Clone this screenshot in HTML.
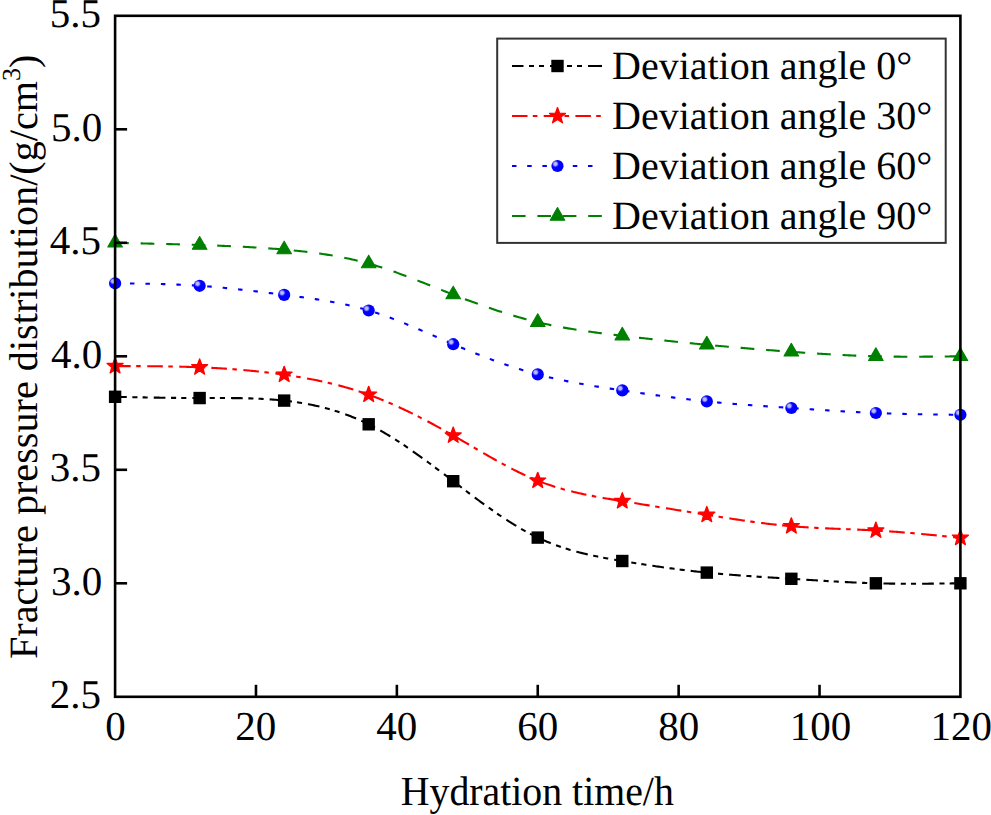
<!DOCTYPE html><html><head><meta charset="utf-8"><style>html,body{margin:0;padding:0;background:#fff;overflow:hidden}svg{display:block}text{font-family:"Liberation Serif", serif;fill:#000;text-rendering:geometricPrecision}</style></head><body>
<svg width="991" height="815" viewBox="0 0 991 815">
<defs><radialGradient id="ball" cx="0.33" cy="0.33" r="0.5" fx="0.33" fy="0.33"><stop offset="0" stop-color="#c4c4ff"/><stop offset="0.25" stop-color="#b0b0fc"/><stop offset="0.5" stop-color="#1a1aff"/><stop offset="0.62" stop-color="#0000ff"/><stop offset="1" stop-color="#0000ff"/></radialGradient></defs>
<rect width="991" height="815" fill="#fff"/>
<path d="M115.10,396.80 L116.51,396.83 L117.92,396.86 L119.33,396.89 L120.74,396.92 L122.16,396.95 L123.57,396.98 L124.98,397.01 L126.39,397.04 L127.80,397.07 L129.21,397.10 L130.62,397.13 L132.03,397.16 L133.45,397.19 L134.86,397.22 L136.27,397.25 L137.68,397.28 L139.09,397.30 L140.50,397.33 L141.91,397.36 L143.32,397.39 L144.73,397.41 L146.15,397.44 L147.56,397.47 L148.97,397.49 L150.38,397.52 L151.79,397.54 L153.20,397.57 L154.61,397.59 L156.02,397.62 L157.44,397.64 L158.85,397.66 L160.26,397.69 L161.67,397.71 L163.08,397.73 L164.49,397.75 L165.90,397.77 L167.31,397.79 L168.73,397.81 L170.14,397.83 L171.55,397.85 L172.96,397.86 L174.37,397.88 L175.78,397.90 L177.19,397.91 L178.60,397.93 L180.01,397.94 L181.43,397.95 L182.84,397.97 L184.25,397.98 L185.66,397.99 L187.07,398.00 L188.48,398.01 L189.89,398.02 L191.30,398.02 L192.72,398.03 L194.13,398.04 L195.54,398.04 L196.95,398.04 L198.36,398.05 L199.77,398.05 L201.18,398.05 L202.59,398.05 L204.00,398.05 L205.42,398.05 L206.83,398.05 L208.24,398.05 L209.65,398.05 L211.06,398.04 L212.47,398.04 L213.88,398.04 L215.29,398.04 L216.71,398.04 L218.12,398.04 L219.53,398.03 L220.94,398.04 L222.35,398.04 L223.76,398.04 L225.17,398.04 L226.58,398.05 L227.99,398.05 L229.41,398.06 L230.82,398.07 L232.23,398.08 L233.64,398.09 L235.05,398.10 L236.46,398.12 L237.87,398.13 L239.28,398.15 L240.70,398.17 L242.11,398.20 L243.52,398.23 L244.93,398.26 L246.34,398.29 L247.75,398.32 L249.16,398.36 L250.57,398.40 L251.98,398.45 L253.40,398.50 L254.81,398.55 L256.22,398.60 L257.63,398.66 L259.04,398.72 L260.45,398.79 L261.86,398.86 L263.27,398.93 L264.69,399.01 L266.10,399.10 L267.51,399.18 L268.92,399.28 L270.33,399.37 L271.74,399.48 L273.15,399.58 L274.56,399.69 L275.98,399.81 L277.39,399.93 L278.80,400.06 L280.21,400.20 L281.62,400.33 L283.03,400.48 L284.44,400.63 L285.85,400.79 L287.26,400.95 L288.68,401.12 L290.09,401.30 L291.50,401.48 L292.91,401.67 L294.32,401.86 L295.73,402.06 L297.14,402.27 L298.55,402.49 L299.97,402.71 L301.38,402.94 L302.79,403.18 L304.20,403.42 L305.61,403.67 L307.02,403.93 L308.43,404.20 L309.84,404.48 L311.25,404.76 L312.67,405.05 L314.08,405.35 L315.49,405.66 L316.90,405.98 L318.31,406.30 L319.72,406.63 L321.13,406.97 L322.54,407.33 L323.96,407.68 L325.37,408.05 L326.78,408.43 L328.19,408.82 L329.60,409.21 L331.01,409.62 L332.42,410.03 L333.83,410.46 L335.24,410.89 L336.66,411.34 L338.07,411.79 L339.48,412.25 L340.89,412.73 L342.30,413.21 L343.71,413.71 L345.12,414.21 L346.53,414.73 L347.95,415.26 L349.36,415.79 L350.77,416.34 L352.18,416.90 L353.59,417.47 L355.00,418.05 L356.41,418.65 L357.82,419.25 L359.24,419.87 L360.65,420.49 L362.06,421.13 L363.47,421.79 L364.88,422.45 L366.29,423.12 L367.70,423.81 L369.11,424.51 L370.52,425.22 L371.94,425.95 L373.35,426.68 L374.76,427.43 L376.17,428.19 L377.58,428.96 L378.99,429.74 L380.40,430.53 L381.81,431.34 L383.23,432.15 L384.64,432.98 L386.05,433.81 L387.46,434.65 L388.87,435.51 L390.28,436.37 L391.69,437.24 L393.10,438.12 L394.51,439.01 L395.93,439.91 L397.34,440.82 L398.75,441.73 L400.16,442.65 L401.57,443.59 L402.98,444.52 L404.39,445.47 L405.80,446.42 L407.22,447.38 L408.63,448.35 L410.04,449.32 L411.45,450.30 L412.86,451.29 L414.27,452.28 L415.68,453.28 L417.09,454.28 L418.50,455.29 L419.92,456.30 L421.33,457.32 L422.74,458.34 L424.15,459.37 L425.56,460.40 L426.97,461.44 L428.38,462.48 L429.79,463.52 L431.21,464.57 L432.62,465.62 L434.03,466.67 L435.44,467.73 L436.85,468.79 L438.26,469.85 L439.67,470.91 L441.08,471.98 L442.49,473.05 L443.91,474.12 L445.32,475.19 L446.73,476.26 L448.14,477.33 L449.55,478.41 L450.96,479.48 L452.37,480.55 L453.78,481.63 L455.20,482.71 L456.61,483.78 L458.02,484.85 L459.43,485.93 L460.84,487.00 L462.25,488.07 L463.66,489.14 L465.07,490.21 L466.49,491.28 L467.90,492.34 L469.31,493.41 L470.72,494.47 L472.13,495.52 L473.54,496.58 L474.95,497.63 L476.36,498.68 L477.77,499.72 L479.19,500.76 L480.60,501.80 L482.01,502.83 L483.42,503.86 L484.83,504.88 L486.24,505.90 L487.65,506.91 L489.06,507.92 L490.48,508.92 L491.89,509.91 L493.30,510.90 L494.71,511.88 L496.12,512.86 L497.53,513.83 L498.94,514.79 L500.35,515.75 L501.76,516.69 L503.18,517.63 L504.59,518.56 L506.00,519.49 L507.41,520.40 L508.82,521.31 L510.23,522.21 L511.64,523.09 L513.05,523.97 L514.47,524.84 L515.88,525.70 L517.29,526.55 L518.70,527.39 L520.11,528.22 L521.52,529.04 L522.93,529.84 L524.34,530.64 L525.75,531.42 L527.17,532.20 L528.58,532.96 L529.99,533.71 L531.40,534.44 L532.81,535.17 L534.22,535.88 L535.63,536.58 L537.04,537.26 L538.46,537.93 L539.87,538.59 L541.28,539.24 L542.69,539.87 L544.10,540.49 L545.51,541.09 L546.92,541.69 L548.33,542.27 L549.75,542.84 L551.16,543.40 L552.57,543.95 L553.98,544.48 L555.39,545.00 L556.80,545.52 L558.21,546.02 L559.62,546.51 L561.03,546.99 L562.45,547.46 L563.86,547.93 L565.27,548.38 L566.68,548.82 L568.09,549.25 L569.50,549.68 L570.91,550.09 L572.32,550.50 L573.74,550.90 L575.15,551.29 L576.56,551.67 L577.97,552.04 L579.38,552.41 L580.79,552.77 L582.20,553.12 L583.61,553.46 L585.02,553.80 L586.44,554.13 L587.85,554.46 L589.26,554.78 L590.67,555.09 L592.08,555.40 L593.49,555.70 L594.90,556.00 L596.31,556.29 L597.73,556.58 L599.14,556.86 L600.55,557.14 L601.96,557.41 L603.37,557.68 L604.78,557.94 L606.19,558.20 L607.60,558.46 L609.01,558.72 L610.43,558.97 L611.84,559.22 L613.25,559.47 L614.66,559.71 L616.07,559.95 L617.48,560.19 L618.89,560.43 L620.30,560.67 L621.72,560.91 L623.13,561.14 L624.54,561.37 L625.95,561.61 L627.36,561.84 L628.77,562.07 L630.18,562.30 L631.59,562.53 L633.01,562.75 L634.42,562.98 L635.83,563.20 L637.24,563.43 L638.65,563.65 L640.06,563.87 L641.47,564.09 L642.88,564.31 L644.29,564.53 L645.71,564.74 L647.12,564.96 L648.53,565.17 L649.94,565.38 L651.35,565.59 L652.76,565.80 L654.17,566.01 L655.58,566.22 L657.00,566.42 L658.41,566.63 L659.82,566.83 L661.23,567.03 L662.64,567.23 L664.05,567.43 L665.46,567.62 L666.87,567.82 L668.28,568.01 L669.70,568.20 L671.11,568.39 L672.52,568.58 L673.93,568.77 L675.34,568.95 L676.75,569.13 L678.16,569.31 L679.57,569.49 L680.99,569.67 L682.40,569.85 L683.81,570.02 L685.22,570.20 L686.63,570.37 L688.04,570.53 L689.45,570.70 L690.86,570.87 L692.27,571.03 L693.69,571.19 L695.10,571.35 L696.51,571.51 L697.92,571.67 L699.33,571.82 L700.74,571.97 L702.15,572.12 L703.56,572.27 L704.98,572.41 L706.39,572.56 L707.80,572.70 L709.21,572.84 L710.62,572.98 L712.03,573.11 L713.44,573.25 L714.85,573.38 L716.26,573.51 L717.68,573.63 L719.09,573.76 L720.50,573.89 L721.91,574.01 L723.32,574.13 L724.73,574.25 L726.14,574.37 L727.55,574.48 L728.97,574.60 L730.38,574.71 L731.79,574.82 L733.20,574.94 L734.61,575.04 L736.02,575.15 L737.43,575.26 L738.84,575.37 L740.26,575.47 L741.67,575.57 L743.08,575.68 L744.49,575.78 L745.90,575.88 L747.31,575.98 L748.72,576.07 L750.13,576.17 L751.54,576.27 L752.96,576.36 L754.37,576.46 L755.78,576.55 L757.19,576.65 L758.60,576.74 L760.01,576.83 L761.42,576.92 L762.83,577.01 L764.25,577.10 L765.66,577.19 L767.07,577.28 L768.48,577.37 L769.89,577.46 L771.30,577.55 L772.71,577.64 L774.12,577.73 L775.53,577.82 L776.95,577.90 L778.36,577.99 L779.77,578.08 L781.18,578.17 L782.59,578.25 L784.00,578.34 L785.41,578.43 L786.82,578.52 L788.24,578.61 L789.65,578.69 L791.06,578.78 L792.47,578.87 L793.88,578.96 L795.29,579.05 L796.70,579.14 L798.11,579.23 L799.52,579.32 L800.94,579.41 L802.35,579.50 L803.76,579.59 L805.17,579.68 L806.58,579.77 L807.99,579.86 L809.40,579.95 L810.81,580.04 L812.23,580.13 L813.64,580.21 L815.05,580.30 L816.46,580.39 L817.87,580.48 L819.28,580.57 L820.69,580.65 L822.10,580.74 L823.52,580.83 L824.93,580.91 L826.34,581.00 L827.75,581.08 L829.16,581.16 L830.57,581.25 L831.98,581.33 L833.39,581.41 L834.80,581.49 L836.22,581.57 L837.63,581.65 L839.04,581.73 L840.45,581.80 L841.86,581.88 L843.27,581.95 L844.68,582.03 L846.09,582.10 L847.51,582.17 L848.92,582.24 L850.33,582.31 L851.74,582.38 L853.15,582.44 L854.56,582.51 L855.97,582.57 L857.38,582.63 L858.79,582.70 L860.21,582.75 L861.62,582.81 L863.03,582.87 L864.44,582.92 L865.85,582.98 L867.26,583.03 L868.67,583.08 L870.08,583.12 L871.50,583.17 L872.91,583.21 L874.32,583.26 L875.73,583.30 L877.14,583.33 L878.55,583.37 L879.96,583.41 L881.37,583.44 L882.78,583.47 L884.20,583.50 L885.61,583.52 L887.02,583.55 L888.43,583.57 L889.84,583.60 L891.25,583.62 L892.66,583.64 L894.07,583.65 L895.49,583.67 L896.90,583.68 L898.31,583.70 L899.72,583.71 L901.13,583.72 L902.54,583.73 L903.95,583.73 L905.36,583.74 L906.77,583.74 L908.19,583.75 L909.60,583.75 L911.01,583.75 L912.42,583.75 L913.83,583.75 L915.24,583.75 L916.65,583.74 L918.06,583.74 L919.48,583.73 L920.89,583.73 L922.30,583.72 L923.71,583.71 L925.12,583.70 L926.53,583.69 L927.94,583.68 L929.35,583.67 L930.77,583.66 L932.18,583.65 L933.59,583.63 L935.00,583.62 L936.41,583.61 L937.82,583.59 L939.23,583.57 L940.64,583.56 L942.05,583.54 L943.47,583.52 L944.88,583.51 L946.29,583.49 L947.70,583.47 L949.11,583.45 L950.52,583.43 L951.93,583.42 L953.34,583.40 L954.76,583.38 L956.17,583.36 L957.58,583.34 L958.99,583.32 L960.40,583.30" fill="none" stroke="#000" stroke-width="2.10" stroke-dasharray="11.7 5.6 5.1 5.1 5.1 6.05" stroke-dashoffset="0.00" stroke-linecap="butt" stroke-linejoin="round"/>
<path d="M115.10,366.10 L116.51,366.10 L117.92,366.10 L119.33,366.11 L120.74,366.11 L122.16,366.11 L123.57,366.11 L124.98,366.11 L126.39,366.12 L127.80,366.12 L129.21,366.12 L130.62,366.12 L132.03,366.13 L133.45,366.13 L134.86,366.14 L136.27,366.14 L137.68,366.15 L139.09,366.15 L140.50,366.16 L141.91,366.17 L143.32,366.17 L144.73,366.18 L146.15,366.19 L147.56,366.20 L148.97,366.21 L150.38,366.22 L151.79,366.23 L153.20,366.24 L154.61,366.26 L156.02,366.27 L157.44,366.29 L158.85,366.30 L160.26,366.32 L161.67,366.34 L163.08,366.36 L164.49,366.38 L165.90,366.40 L167.31,366.42 L168.73,366.44 L170.14,366.47 L171.55,366.49 L172.96,366.52 L174.37,366.55 L175.78,366.58 L177.19,366.61 L178.60,366.64 L180.01,366.67 L181.43,366.71 L182.84,366.75 L184.25,366.78 L185.66,366.82 L187.07,366.86 L188.48,366.91 L189.89,366.95 L191.30,367.00 L192.72,367.04 L194.13,367.09 L195.54,367.14 L196.95,367.20 L198.36,367.25 L199.77,367.31 L201.18,367.36 L202.59,367.42 L204.00,367.49 L205.42,367.55 L206.83,367.61 L208.24,367.68 L209.65,367.75 L211.06,367.82 L212.47,367.90 L213.88,367.97 L215.29,368.05 L216.71,368.13 L218.12,368.21 L219.53,368.29 L220.94,368.38 L222.35,368.47 L223.76,368.56 L225.17,368.65 L226.58,368.74 L227.99,368.84 L229.41,368.94 L230.82,369.04 L232.23,369.14 L233.64,369.25 L235.05,369.36 L236.46,369.47 L237.87,369.58 L239.28,369.70 L240.70,369.81 L242.11,369.93 L243.52,370.06 L244.93,370.18 L246.34,370.31 L247.75,370.44 L249.16,370.57 L250.57,370.70 L251.98,370.84 L253.40,370.98 L254.81,371.12 L256.22,371.27 L257.63,371.42 L259.04,371.57 L260.45,371.72 L261.86,371.87 L263.27,372.03 L264.69,372.19 L266.10,372.36 L267.51,372.52 L268.92,372.69 L270.33,372.86 L271.74,373.04 L273.15,373.22 L274.56,373.40 L275.98,373.58 L277.39,373.77 L278.80,373.95 L280.21,374.15 L281.62,374.34 L283.03,374.54 L284.44,374.74 L285.85,374.94 L287.26,375.15 L288.68,375.36 L290.09,375.57 L291.50,375.79 L292.91,376.01 L294.32,376.23 L295.73,376.46 L297.14,376.69 L298.55,376.93 L299.97,377.16 L301.38,377.41 L302.79,377.65 L304.20,377.90 L305.61,378.15 L307.02,378.41 L308.43,378.67 L309.84,378.94 L311.25,379.21 L312.67,379.48 L314.08,379.76 L315.49,380.05 L316.90,380.33 L318.31,380.63 L319.72,380.92 L321.13,381.23 L322.54,381.53 L323.96,381.84 L325.37,382.16 L326.78,382.48 L328.19,382.81 L329.60,383.14 L331.01,383.48 L332.42,383.82 L333.83,384.17 L335.24,384.53 L336.66,384.89 L338.07,385.25 L339.48,385.62 L340.89,386.00 L342.30,386.38 L343.71,386.77 L345.12,387.16 L346.53,387.56 L347.95,387.97 L349.36,388.38 L350.77,388.80 L352.18,389.23 L353.59,389.66 L355.00,390.10 L356.41,390.54 L357.82,390.99 L359.24,391.45 L360.65,391.92 L362.06,392.39 L363.47,392.87 L364.88,393.35 L366.29,393.85 L367.70,394.35 L369.11,394.85 L370.52,395.37 L371.94,395.89 L373.35,396.42 L374.76,396.95 L376.17,397.50 L377.58,398.04 L378.99,398.60 L380.40,399.16 L381.81,399.73 L383.23,400.31 L384.64,400.89 L386.05,401.48 L387.46,402.08 L388.87,402.68 L390.28,403.28 L391.69,403.90 L393.10,404.52 L394.51,405.14 L395.93,405.78 L397.34,406.41 L398.75,407.06 L400.16,407.70 L401.57,408.36 L402.98,409.02 L404.39,409.68 L405.80,410.36 L407.22,411.03 L408.63,411.71 L410.04,412.40 L411.45,413.09 L412.86,413.79 L414.27,414.49 L415.68,415.19 L417.09,415.91 L418.50,416.62 L419.92,417.34 L421.33,418.07 L422.74,418.80 L424.15,419.53 L425.56,420.27 L426.97,421.01 L428.38,421.76 L429.79,422.51 L431.21,423.26 L432.62,424.02 L434.03,424.78 L435.44,425.55 L436.85,426.32 L438.26,427.09 L439.67,427.87 L441.08,428.65 L442.49,429.44 L443.91,430.22 L445.32,431.01 L446.73,431.81 L448.14,432.61 L449.55,433.41 L450.96,434.21 L452.37,435.01 L453.78,435.82 L455.20,436.64 L456.61,437.45 L458.02,438.27 L459.43,439.08 L460.84,439.90 L462.25,440.73 L463.66,441.55 L465.07,442.37 L466.49,443.20 L467.90,444.02 L469.31,444.85 L470.72,445.68 L472.13,446.50 L473.54,447.33 L474.95,448.15 L476.36,448.98 L477.77,449.80 L479.19,450.62 L480.60,451.44 L482.01,452.26 L483.42,453.08 L484.83,453.90 L486.24,454.71 L487.65,455.52 L489.06,456.32 L490.48,457.13 L491.89,457.93 L493.30,458.73 L494.71,459.52 L496.12,460.31 L497.53,461.09 L498.94,461.88 L500.35,462.65 L501.76,463.42 L503.18,464.19 L504.59,464.95 L506.00,465.70 L507.41,466.45 L508.82,467.20 L510.23,467.93 L511.64,468.66 L513.05,469.38 L514.47,470.10 L515.88,470.81 L517.29,471.51 L518.70,472.21 L520.11,472.89 L521.52,473.57 L522.93,474.24 L524.34,474.90 L525.75,475.55 L527.17,476.19 L528.58,476.83 L529.99,477.45 L531.40,478.06 L532.81,478.67 L534.22,479.26 L535.63,479.85 L537.04,480.42 L538.46,480.98 L539.87,481.53 L541.28,482.07 L542.69,482.60 L544.10,483.12 L545.51,483.63 L546.92,484.13 L548.33,484.61 L549.75,485.09 L551.16,485.56 L552.57,486.02 L553.98,486.47 L555.39,486.92 L556.80,487.35 L558.21,487.77 L559.62,488.19 L561.03,488.60 L562.45,489.00 L563.86,489.39 L565.27,489.78 L566.68,490.15 L568.09,490.52 L569.50,490.89 L570.91,491.24 L572.32,491.59 L573.74,491.93 L575.15,492.27 L576.56,492.60 L577.97,492.92 L579.38,493.24 L580.79,493.56 L582.20,493.86 L583.61,494.16 L585.02,494.46 L586.44,494.75 L587.85,495.04 L589.26,495.32 L590.67,495.60 L592.08,495.88 L593.49,496.15 L594.90,496.41 L596.31,496.68 L597.73,496.94 L599.14,497.19 L600.55,497.45 L601.96,497.70 L603.37,497.94 L604.78,498.19 L606.19,498.43 L607.60,498.67 L609.01,498.91 L610.43,499.15 L611.84,499.39 L613.25,499.62 L614.66,499.85 L616.07,500.09 L617.48,500.32 L618.89,500.55 L620.30,500.78 L621.72,501.01 L623.13,501.24 L624.54,501.47 L625.95,501.70 L627.36,501.93 L628.77,502.16 L630.18,502.39 L631.59,502.62 L633.01,502.85 L634.42,503.08 L635.83,503.31 L637.24,503.54 L638.65,503.77 L640.06,503.99 L641.47,504.22 L642.88,504.45 L644.29,504.68 L645.71,504.91 L647.12,505.14 L648.53,505.37 L649.94,505.60 L651.35,505.83 L652.76,506.06 L654.17,506.29 L655.58,506.52 L657.00,506.75 L658.41,506.98 L659.82,507.21 L661.23,507.43 L662.64,507.66 L664.05,507.89 L665.46,508.12 L666.87,508.35 L668.28,508.58 L669.70,508.81 L671.11,509.04 L672.52,509.27 L673.93,509.49 L675.34,509.72 L676.75,509.95 L678.16,510.18 L679.57,510.41 L680.99,510.64 L682.40,510.86 L683.81,511.09 L685.22,511.32 L686.63,511.55 L688.04,511.78 L689.45,512.00 L690.86,512.23 L692.27,512.46 L693.69,512.69 L695.10,512.91 L696.51,513.14 L697.92,513.37 L699.33,513.60 L700.74,513.82 L702.15,514.05 L703.56,514.28 L704.98,514.51 L706.39,514.73 L707.80,514.96 L709.21,515.19 L710.62,515.41 L712.03,515.64 L713.44,515.86 L714.85,516.09 L716.26,516.31 L717.68,516.54 L719.09,516.76 L720.50,516.99 L721.91,517.21 L723.32,517.43 L724.73,517.65 L726.14,517.87 L727.55,518.09 L728.97,518.31 L730.38,518.53 L731.79,518.75 L733.20,518.96 L734.61,519.18 L736.02,519.39 L737.43,519.60 L738.84,519.82 L740.26,520.02 L741.67,520.23 L743.08,520.44 L744.49,520.64 L745.90,520.85 L747.31,521.05 L748.72,521.25 L750.13,521.45 L751.54,521.64 L752.96,521.84 L754.37,522.03 L755.78,522.22 L757.19,522.41 L758.60,522.60 L760.01,522.78 L761.42,522.96 L762.83,523.14 L764.25,523.32 L765.66,523.50 L767.07,523.67 L768.48,523.84 L769.89,524.01 L771.30,524.17 L772.71,524.33 L774.12,524.49 L775.53,524.65 L776.95,524.81 L778.36,524.96 L779.77,525.10 L781.18,525.25 L782.59,525.39 L784.00,525.53 L785.41,525.67 L786.82,525.80 L788.24,525.93 L789.65,526.05 L791.06,526.18 L792.47,526.29 L793.88,526.41 L795.29,526.52 L796.70,526.63 L798.11,526.74 L799.52,526.84 L800.94,526.94 L802.35,527.04 L803.76,527.13 L805.17,527.22 L806.58,527.31 L807.99,527.40 L809.40,527.48 L810.81,527.57 L812.23,527.65 L813.64,527.72 L815.05,527.80 L816.46,527.87 L817.87,527.95 L819.28,528.02 L820.69,528.08 L822.10,528.15 L823.52,528.22 L824.93,528.28 L826.34,528.34 L827.75,528.41 L829.16,528.47 L830.57,528.53 L831.98,528.59 L833.39,528.64 L834.80,528.70 L836.22,528.76 L837.63,528.82 L839.04,528.87 L840.45,528.93 L841.86,528.98 L843.27,529.04 L844.68,529.09 L846.09,529.15 L847.51,529.20 L848.92,529.26 L850.33,529.32 L851.74,529.37 L853.15,529.43 L854.56,529.49 L855.97,529.55 L857.38,529.61 L858.79,529.67 L860.21,529.73 L861.62,529.79 L863.03,529.85 L864.44,529.92 L865.85,529.98 L867.26,530.05 L868.67,530.12 L870.08,530.19 L871.50,530.26 L872.91,530.34 L874.32,530.41 L875.73,530.49 L877.14,530.57 L878.55,530.65 L879.96,530.74 L881.37,530.83 L882.78,530.91 L884.20,531.00 L885.61,531.10 L887.02,531.19 L888.43,531.29 L889.84,531.39 L891.25,531.48 L892.66,531.59 L894.07,531.69 L895.49,531.79 L896.90,531.90 L898.31,532.01 L899.72,532.12 L901.13,532.23 L902.54,532.34 L903.95,532.46 L905.36,532.57 L906.77,532.69 L908.19,532.81 L909.60,532.93 L911.01,533.05 L912.42,533.17 L913.83,533.29 L915.24,533.42 L916.65,533.54 L918.06,533.67 L919.48,533.80 L920.89,533.92 L922.30,534.05 L923.71,534.18 L925.12,534.32 L926.53,534.45 L927.94,534.58 L929.35,534.72 L930.77,534.85 L932.18,534.99 L933.59,535.12 L935.00,535.26 L936.41,535.40 L937.82,535.54 L939.23,535.67 L940.64,535.81 L942.05,535.95 L943.47,536.09 L944.88,536.23 L946.29,536.38 L947.70,536.52 L949.11,536.66 L950.52,536.80 L951.93,536.94 L953.34,537.09 L954.76,537.23 L956.17,537.37 L957.58,537.51 L958.99,537.66 L960.40,537.80" fill="none" stroke="#ff0000" stroke-width="2.10" stroke-dasharray="15.6 5.5 4.5 6.5" stroke-dashoffset="0.00" stroke-linecap="butt" stroke-linejoin="round"/>
<path d="M115.10,283.30 L116.51,283.31 L117.92,283.33 L119.33,283.34 L120.74,283.36 L122.16,283.37 L123.57,283.39 L124.98,283.40 L126.39,283.42 L127.80,283.43 L129.21,283.45 L130.62,283.47 L132.03,283.48 L133.45,283.50 L134.86,283.52 L136.27,283.54 L137.68,283.56 L139.09,283.58 L140.50,283.60 L141.91,283.62 L143.32,283.65 L144.73,283.67 L146.15,283.69 L147.56,283.72 L148.97,283.75 L150.38,283.77 L151.79,283.80 L153.20,283.83 L154.61,283.87 L156.02,283.90 L157.44,283.93 L158.85,283.97 L160.26,284.01 L161.67,284.04 L163.08,284.08 L164.49,284.13 L165.90,284.17 L167.31,284.21 L168.73,284.26 L170.14,284.31 L171.55,284.36 L172.96,284.41 L174.37,284.46 L175.78,284.52 L177.19,284.58 L178.60,284.64 L180.01,284.70 L181.43,284.76 L182.84,284.83 L184.25,284.90 L185.66,284.97 L187.07,285.04 L188.48,285.12 L189.89,285.20 L191.30,285.28 L192.72,285.36 L194.13,285.44 L195.54,285.53 L196.95,285.62 L198.36,285.71 L199.77,285.81 L201.18,285.91 L202.59,286.01 L204.00,286.11 L205.42,286.22 L206.83,286.33 L208.24,286.44 L209.65,286.55 L211.06,286.67 L212.47,286.79 L213.88,286.91 L215.29,287.03 L216.71,287.16 L218.12,287.29 L219.53,287.42 L220.94,287.55 L222.35,287.68 L223.76,287.82 L225.17,287.96 L226.58,288.10 L227.99,288.24 L229.41,288.39 L230.82,288.53 L232.23,288.68 L233.64,288.83 L235.05,288.98 L236.46,289.13 L237.87,289.28 L239.28,289.44 L240.70,289.60 L242.11,289.75 L243.52,289.91 L244.93,290.08 L246.34,290.24 L247.75,290.40 L249.16,290.57 L250.57,290.73 L251.98,290.90 L253.40,291.07 L254.81,291.24 L256.22,291.41 L257.63,291.58 L259.04,291.75 L260.45,291.92 L261.86,292.09 L263.27,292.27 L264.69,292.44 L266.10,292.62 L267.51,292.79 L268.92,292.97 L270.33,293.15 L271.74,293.33 L273.15,293.50 L274.56,293.68 L275.98,293.86 L277.39,294.04 L278.80,294.22 L280.21,294.40 L281.62,294.58 L283.03,294.76 L284.44,294.94 L285.85,295.12 L287.26,295.30 L288.68,295.48 L290.09,295.66 L291.50,295.84 L292.91,296.02 L294.32,296.20 L295.73,296.38 L297.14,296.57 L298.55,296.75 L299.97,296.94 L301.38,297.13 L302.79,297.32 L304.20,297.51 L305.61,297.71 L307.02,297.90 L308.43,298.10 L309.84,298.30 L311.25,298.51 L312.67,298.71 L314.08,298.92 L315.49,299.13 L316.90,299.35 L318.31,299.56 L319.72,299.78 L321.13,300.01 L322.54,300.24 L323.96,300.47 L325.37,300.70 L326.78,300.94 L328.19,301.19 L329.60,301.43 L331.01,301.68 L332.42,301.94 L333.83,302.20 L335.24,302.47 L336.66,302.74 L338.07,303.01 L339.48,303.30 L340.89,303.58 L342.30,303.87 L343.71,304.17 L345.12,304.47 L346.53,304.78 L347.95,305.10 L349.36,305.42 L350.77,305.74 L352.18,306.08 L353.59,306.42 L355.00,306.76 L356.41,307.12 L357.82,307.48 L359.24,307.85 L360.65,308.22 L362.06,308.60 L363.47,308.99 L364.88,309.39 L366.29,309.79 L367.70,310.21 L369.11,310.63 L370.52,311.06 L371.94,311.49 L373.35,311.94 L374.76,312.39 L376.17,312.85 L377.58,313.31 L378.99,313.79 L380.40,314.27 L381.81,314.76 L383.23,315.25 L384.64,315.75 L386.05,316.25 L387.46,316.77 L388.87,317.28 L390.28,317.81 L391.69,318.34 L393.10,318.87 L394.51,319.41 L395.93,319.96 L397.34,320.50 L398.75,321.06 L400.16,321.62 L401.57,322.18 L402.98,322.75 L404.39,323.32 L405.80,323.89 L407.22,324.47 L408.63,325.05 L410.04,325.63 L411.45,326.22 L412.86,326.81 L414.27,327.41 L415.68,328.00 L417.09,328.60 L418.50,329.20 L419.92,329.80 L421.33,330.41 L422.74,331.02 L424.15,331.62 L425.56,332.23 L426.97,332.84 L428.38,333.45 L429.79,334.07 L431.21,334.68 L432.62,335.29 L434.03,335.91 L435.44,336.52 L436.85,337.13 L438.26,337.75 L439.67,338.36 L441.08,338.97 L442.49,339.59 L443.91,340.20 L445.32,340.81 L446.73,341.42 L448.14,342.03 L449.55,342.63 L450.96,343.24 L452.37,343.84 L453.78,344.44 L455.20,345.04 L456.61,345.63 L458.02,346.23 L459.43,346.82 L460.84,347.41 L462.25,348.00 L463.66,348.58 L465.07,349.16 L466.49,349.74 L467.90,350.32 L469.31,350.89 L470.72,351.46 L472.13,352.03 L473.54,352.60 L474.95,353.16 L476.36,353.72 L477.77,354.27 L479.19,354.83 L480.60,355.38 L482.01,355.92 L483.42,356.47 L484.83,357.01 L486.24,357.55 L487.65,358.08 L489.06,358.61 L490.48,359.14 L491.89,359.66 L493.30,360.18 L494.71,360.69 L496.12,361.21 L497.53,361.72 L498.94,362.22 L500.35,362.72 L501.76,363.22 L503.18,363.71 L504.59,364.20 L506.00,364.68 L507.41,365.17 L508.82,365.64 L510.23,366.11 L511.64,366.58 L513.05,367.05 L514.47,367.50 L515.88,367.96 L517.29,368.41 L518.70,368.86 L520.11,369.30 L521.52,369.73 L522.93,370.16 L524.34,370.59 L525.75,371.01 L527.17,371.43 L528.58,371.84 L529.99,372.25 L531.40,372.65 L532.81,373.05 L534.22,373.44 L535.63,373.83 L537.04,374.21 L538.46,374.59 L539.87,374.96 L541.28,375.32 L542.69,375.69 L544.10,376.04 L545.51,376.39 L546.92,376.74 L548.33,377.08 L549.75,377.42 L551.16,377.75 L552.57,378.08 L553.98,378.40 L555.39,378.72 L556.80,379.03 L558.21,379.34 L559.62,379.65 L561.03,379.95 L562.45,380.25 L563.86,380.54 L565.27,380.83 L566.68,381.12 L568.09,381.40 L569.50,381.68 L570.91,381.96 L572.32,382.23 L573.74,382.50 L575.15,382.77 L576.56,383.03 L577.97,383.29 L579.38,383.55 L580.79,383.80 L582.20,384.05 L583.61,384.30 L585.02,384.55 L586.44,384.79 L587.85,385.03 L589.26,385.27 L590.67,385.51 L592.08,385.75 L593.49,385.98 L594.90,386.21 L596.31,386.44 L597.73,386.66 L599.14,386.89 L600.55,387.11 L601.96,387.33 L603.37,387.55 L604.78,387.77 L606.19,387.99 L607.60,388.21 L609.01,388.42 L610.43,388.64 L611.84,388.85 L613.25,389.06 L614.66,389.27 L616.07,389.48 L617.48,389.69 L618.89,389.90 L620.30,390.11 L621.72,390.32 L623.13,390.52 L624.54,390.73 L625.95,390.94 L627.36,391.15 L628.77,391.35 L630.18,391.56 L631.59,391.76 L633.01,391.97 L634.42,392.17 L635.83,392.38 L637.24,392.58 L638.65,392.78 L640.06,392.98 L641.47,393.19 L642.88,393.39 L644.29,393.59 L645.71,393.79 L647.12,393.99 L648.53,394.18 L649.94,394.38 L651.35,394.58 L652.76,394.77 L654.17,394.97 L655.58,395.16 L657.00,395.36 L658.41,395.55 L659.82,395.74 L661.23,395.93 L662.64,396.12 L664.05,396.31 L665.46,396.49 L666.87,396.68 L668.28,396.86 L669.70,397.05 L671.11,397.23 L672.52,397.41 L673.93,397.59 L675.34,397.77 L676.75,397.95 L678.16,398.13 L679.57,398.30 L680.99,398.48 L682.40,398.65 L683.81,398.82 L685.22,398.99 L686.63,399.16 L688.04,399.33 L689.45,399.49 L690.86,399.66 L692.27,399.82 L693.69,399.98 L695.10,400.14 L696.51,400.30 L697.92,400.45 L699.33,400.61 L700.74,400.76 L702.15,400.91 L703.56,401.06 L704.98,401.21 L706.39,401.36 L707.80,401.50 L709.21,401.64 L710.62,401.78 L712.03,401.92 L713.44,402.06 L714.85,402.20 L716.26,402.33 L717.68,402.46 L719.09,402.59 L720.50,402.72 L721.91,402.85 L723.32,402.98 L724.73,403.10 L726.14,403.23 L727.55,403.35 L728.97,403.47 L730.38,403.59 L731.79,403.71 L733.20,403.83 L734.61,403.94 L736.02,404.06 L737.43,404.17 L738.84,404.29 L740.26,404.40 L741.67,404.51 L743.08,404.62 L744.49,404.73 L745.90,404.84 L747.31,404.94 L748.72,405.05 L750.13,405.15 L751.54,405.26 L752.96,405.36 L754.37,405.46 L755.78,405.57 L757.19,405.67 L758.60,405.77 L760.01,405.87 L761.42,405.97 L762.83,406.07 L764.25,406.17 L765.66,406.26 L767.07,406.36 L768.48,406.46 L769.89,406.56 L771.30,406.65 L772.71,406.75 L774.12,406.84 L775.53,406.94 L776.95,407.03 L778.36,407.13 L779.77,407.22 L781.18,407.32 L782.59,407.41 L784.00,407.51 L785.41,407.60 L786.82,407.70 L788.24,407.79 L789.65,407.89 L791.06,407.98 L792.47,408.08 L793.88,408.17 L795.29,408.27 L796.70,408.36 L798.11,408.46 L799.52,408.55 L800.94,408.65 L802.35,408.74 L803.76,408.84 L805.17,408.93 L806.58,409.02 L807.99,409.12 L809.40,409.21 L810.81,409.31 L812.23,409.40 L813.64,409.50 L815.05,409.59 L816.46,409.68 L817.87,409.77 L819.28,409.87 L820.69,409.96 L822.10,410.05 L823.52,410.14 L824.93,410.23 L826.34,410.32 L827.75,410.41 L829.16,410.50 L830.57,410.59 L831.98,410.68 L833.39,410.77 L834.80,410.85 L836.22,410.94 L837.63,411.03 L839.04,411.11 L840.45,411.19 L841.86,411.28 L843.27,411.36 L844.68,411.44 L846.09,411.52 L847.51,411.60 L848.92,411.68 L850.33,411.76 L851.74,411.84 L853.15,411.92 L854.56,411.99 L855.97,412.07 L857.38,412.14 L858.79,412.21 L860.21,412.28 L861.62,412.36 L863.03,412.42 L864.44,412.49 L865.85,412.56 L867.26,412.63 L868.67,412.69 L870.08,412.75 L871.50,412.82 L872.91,412.88 L874.32,412.94 L875.73,412.99 L877.14,413.05 L878.55,413.11 L879.96,413.16 L881.37,413.21 L882.78,413.27 L884.20,413.32 L885.61,413.36 L887.02,413.41 L888.43,413.46 L889.84,413.50 L891.25,413.55 L892.66,413.59 L894.07,413.63 L895.49,413.68 L896.90,413.72 L898.31,413.75 L899.72,413.79 L901.13,413.83 L902.54,413.87 L903.95,413.90 L905.36,413.93 L906.77,413.97 L908.19,414.00 L909.60,414.03 L911.01,414.06 L912.42,414.09 L913.83,414.12 L915.24,414.15 L916.65,414.18 L918.06,414.21 L919.48,414.23 L920.89,414.26 L922.30,414.28 L923.71,414.31 L925.12,414.33 L926.53,414.35 L927.94,414.38 L929.35,414.40 L930.77,414.42 L932.18,414.44 L933.59,414.46 L935.00,414.48 L936.41,414.50 L937.82,414.52 L939.23,414.54 L940.64,414.56 L942.05,414.58 L943.47,414.60 L944.88,414.61 L946.29,414.63 L947.70,414.65 L949.11,414.67 L950.52,414.68 L951.93,414.70 L953.34,414.72 L954.76,414.73 L956.17,414.75 L957.58,414.77 L958.99,414.78 L960.40,414.80" fill="none" stroke="#0000ff" stroke-width="2.10" stroke-dasharray="4.5 10.97" stroke-dashoffset="0.60" stroke-linecap="butt" stroke-linejoin="round"/>
<path d="M115.10,242.80 L116.51,242.83 L117.92,242.86 L119.33,242.90 L120.74,242.93 L122.16,242.96 L123.57,242.99 L124.98,243.02 L126.39,243.06 L127.80,243.09 L129.21,243.12 L130.62,243.15 L132.03,243.18 L133.45,243.22 L134.86,243.25 L136.27,243.28 L137.68,243.31 L139.09,243.35 L140.50,243.38 L141.91,243.41 L143.32,243.45 L144.73,243.48 L146.15,243.51 L147.56,243.55 L148.97,243.58 L150.38,243.62 L151.79,243.65 L153.20,243.69 L154.61,243.72 L156.02,243.76 L157.44,243.79 L158.85,243.83 L160.26,243.86 L161.67,243.90 L163.08,243.94 L164.49,243.97 L165.90,244.01 L167.31,244.05 L168.73,244.08 L170.14,244.12 L171.55,244.16 L172.96,244.20 L174.37,244.24 L175.78,244.28 L177.19,244.32 L178.60,244.36 L180.01,244.40 L181.43,244.44 L182.84,244.48 L184.25,244.52 L185.66,244.56 L187.07,244.60 L188.48,244.65 L189.89,244.69 L191.30,244.73 L192.72,244.78 L194.13,244.82 L195.54,244.87 L196.95,244.91 L198.36,244.96 L199.77,245.00 L201.18,245.05 L202.59,245.10 L204.00,245.15 L205.42,245.20 L206.83,245.24 L208.24,245.29 L209.65,245.34 L211.06,245.40 L212.47,245.45 L213.88,245.50 L215.29,245.55 L216.71,245.61 L218.12,245.66 L219.53,245.72 L220.94,245.77 L222.35,245.83 L223.76,245.89 L225.17,245.95 L226.58,246.01 L227.99,246.07 L229.41,246.13 L230.82,246.20 L232.23,246.26 L233.64,246.33 L235.05,246.39 L236.46,246.46 L237.87,246.53 L239.28,246.60 L240.70,246.67 L242.11,246.74 L243.52,246.82 L244.93,246.89 L246.34,246.97 L247.75,247.05 L249.16,247.12 L250.57,247.21 L251.98,247.29 L253.40,247.37 L254.81,247.46 L256.22,247.54 L257.63,247.63 L259.04,247.72 L260.45,247.81 L261.86,247.90 L263.27,248.00 L264.69,248.09 L266.10,248.19 L267.51,248.29 L268.92,248.39 L270.33,248.49 L271.74,248.60 L273.15,248.70 L274.56,248.81 L275.98,248.92 L277.39,249.04 L278.80,249.15 L280.21,249.27 L281.62,249.38 L283.03,249.50 L284.44,249.62 L285.85,249.75 L287.26,249.87 L288.68,250.00 L290.09,250.13 L291.50,250.27 L292.91,250.40 L294.32,250.54 L295.73,250.68 L297.14,250.82 L298.55,250.97 L299.97,251.12 L301.38,251.27 L302.79,251.43 L304.20,251.58 L305.61,251.75 L307.02,251.91 L308.43,252.08 L309.84,252.25 L311.25,252.43 L312.67,252.61 L314.08,252.79 L315.49,252.97 L316.90,253.16 L318.31,253.36 L319.72,253.56 L321.13,253.76 L322.54,253.97 L323.96,254.18 L325.37,254.39 L326.78,254.61 L328.19,254.84 L329.60,255.07 L331.01,255.30 L332.42,255.54 L333.83,255.78 L335.24,256.03 L336.66,256.29 L338.07,256.55 L339.48,256.81 L340.89,257.08 L342.30,257.35 L343.71,257.64 L345.12,257.92 L346.53,258.21 L347.95,258.51 L349.36,258.81 L350.77,259.12 L352.18,259.44 L353.59,259.76 L355.00,260.09 L356.41,260.42 L357.82,260.76 L359.24,261.11 L360.65,261.46 L362.06,261.82 L363.47,262.19 L364.88,262.56 L366.29,262.94 L367.70,263.33 L369.11,263.72 L370.52,264.12 L371.94,264.53 L373.35,264.94 L374.76,265.36 L376.17,265.79 L377.58,266.22 L378.99,266.66 L380.40,267.11 L381.81,267.56 L383.23,268.02 L384.64,268.48 L386.05,268.95 L387.46,269.42 L388.87,269.90 L390.28,270.38 L391.69,270.87 L393.10,271.36 L394.51,271.86 L395.93,272.36 L397.34,272.87 L398.75,273.38 L400.16,273.89 L401.57,274.41 L402.98,274.93 L404.39,275.46 L405.80,275.98 L407.22,276.51 L408.63,277.05 L410.04,277.58 L411.45,278.12 L412.86,278.67 L414.27,279.21 L415.68,279.76 L417.09,280.31 L418.50,280.86 L419.92,281.41 L421.33,281.96 L422.74,282.52 L424.15,283.08 L425.56,283.63 L426.97,284.19 L428.38,284.75 L429.79,285.31 L431.21,285.88 L432.62,286.44 L434.03,287.00 L435.44,287.56 L436.85,288.12 L438.26,288.69 L439.67,289.25 L441.08,289.81 L442.49,290.37 L443.91,290.93 L445.32,291.49 L446.73,292.05 L448.14,292.61 L449.55,293.16 L450.96,293.72 L452.37,294.27 L453.78,294.82 L455.20,295.37 L456.61,295.92 L458.02,296.46 L459.43,297.00 L460.84,297.55 L462.25,298.08 L463.66,298.62 L465.07,299.15 L466.49,299.69 L467.90,300.22 L469.31,300.74 L470.72,301.27 L472.13,301.79 L473.54,302.31 L474.95,302.82 L476.36,303.34 L477.77,303.85 L479.19,304.36 L480.60,304.86 L482.01,305.37 L483.42,305.86 L484.83,306.36 L486.24,306.85 L487.65,307.34 L489.06,307.83 L490.48,308.31 L491.89,308.79 L493.30,309.27 L494.71,309.74 L496.12,310.21 L497.53,310.68 L498.94,311.14 L500.35,311.60 L501.76,312.05 L503.18,312.50 L504.59,312.95 L506.00,313.39 L507.41,313.83 L508.82,314.27 L510.23,314.70 L511.64,315.13 L513.05,315.55 L514.47,315.97 L515.88,316.38 L517.29,316.79 L518.70,317.20 L520.11,317.60 L521.52,317.99 L522.93,318.38 L524.34,318.77 L525.75,319.15 L527.17,319.53 L528.58,319.90 L529.99,320.27 L531.40,320.63 L532.81,320.99 L534.22,321.34 L535.63,321.69 L537.04,322.03 L538.46,322.37 L539.87,322.70 L541.28,323.03 L542.69,323.35 L544.10,323.66 L545.51,323.98 L546.92,324.28 L548.33,324.58 L549.75,324.88 L551.16,325.17 L552.57,325.46 L553.98,325.75 L555.39,326.02 L556.80,326.30 L558.21,326.57 L559.62,326.84 L561.03,327.10 L562.45,327.36 L563.86,327.61 L565.27,327.87 L566.68,328.11 L568.09,328.36 L569.50,328.60 L570.91,328.83 L572.32,329.07 L573.74,329.30 L575.15,329.52 L576.56,329.75 L577.97,329.97 L579.38,330.19 L580.79,330.40 L582.20,330.61 L583.61,330.82 L585.02,331.03 L586.44,331.23 L587.85,331.44 L589.26,331.63 L590.67,331.83 L592.08,332.03 L593.49,332.22 L594.90,332.41 L596.31,332.60 L597.73,332.78 L599.14,332.97 L600.55,333.15 L601.96,333.33 L603.37,333.51 L604.78,333.69 L606.19,333.87 L607.60,334.04 L609.01,334.21 L610.43,334.39 L611.84,334.56 L613.25,334.73 L614.66,334.90 L616.07,335.07 L617.48,335.23 L618.89,335.40 L620.30,335.57 L621.72,335.73 L623.13,335.90 L624.54,336.06 L625.95,336.23 L627.36,336.39 L628.77,336.56 L630.18,336.72 L631.59,336.88 L633.01,337.04 L634.42,337.21 L635.83,337.37 L637.24,337.53 L638.65,337.69 L640.06,337.85 L641.47,338.01 L642.88,338.16 L644.29,338.32 L645.71,338.48 L647.12,338.64 L648.53,338.79 L649.94,338.95 L651.35,339.11 L652.76,339.26 L654.17,339.42 L655.58,339.57 L657.00,339.72 L658.41,339.88 L659.82,340.03 L661.23,340.18 L662.64,340.33 L664.05,340.49 L665.46,340.64 L666.87,340.79 L668.28,340.94 L669.70,341.08 L671.11,341.23 L672.52,341.38 L673.93,341.53 L675.34,341.68 L676.75,341.82 L678.16,341.97 L679.57,342.11 L680.99,342.26 L682.40,342.40 L683.81,342.54 L685.22,342.69 L686.63,342.83 L688.04,342.97 L689.45,343.11 L690.86,343.25 L692.27,343.39 L693.69,343.53 L695.10,343.67 L696.51,343.81 L697.92,343.95 L699.33,344.08 L700.74,344.22 L702.15,344.36 L703.56,344.49 L704.98,344.63 L706.39,344.76 L707.80,344.89 L709.21,345.03 L710.62,345.16 L712.03,345.29 L713.44,345.42 L714.85,345.55 L716.26,345.68 L717.68,345.81 L719.09,345.94 L720.50,346.07 L721.91,346.19 L723.32,346.32 L724.73,346.45 L726.14,346.57 L727.55,346.70 L728.97,346.82 L730.38,346.95 L731.79,347.07 L733.20,347.19 L734.61,347.32 L736.02,347.44 L737.43,347.56 L738.84,347.68 L740.26,347.80 L741.67,347.92 L743.08,348.04 L744.49,348.16 L745.90,348.27 L747.31,348.39 L748.72,348.51 L750.13,348.63 L751.54,348.74 L752.96,348.86 L754.37,348.97 L755.78,349.09 L757.19,349.20 L758.60,349.31 L760.01,349.42 L761.42,349.54 L762.83,349.65 L764.25,349.76 L765.66,349.87 L767.07,349.98 L768.48,350.09 L769.89,350.20 L771.30,350.31 L772.71,350.42 L774.12,350.52 L775.53,350.63 L776.95,350.74 L778.36,350.84 L779.77,350.95 L781.18,351.06 L782.59,351.16 L784.00,351.26 L785.41,351.37 L786.82,351.47 L788.24,351.58 L789.65,351.68 L791.06,351.78 L792.47,351.88 L793.88,351.98 L795.29,352.08 L796.70,352.18 L798.11,352.28 L799.52,352.38 L800.94,352.48 L802.35,352.58 L803.76,352.68 L805.17,352.77 L806.58,352.87 L807.99,352.96 L809.40,353.06 L810.81,353.15 L812.23,353.25 L813.64,353.34 L815.05,353.43 L816.46,353.52 L817.87,353.61 L819.28,353.70 L820.69,353.79 L822.10,353.87 L823.52,353.96 L824.93,354.05 L826.34,354.13 L827.75,354.21 L829.16,354.30 L830.57,354.38 L831.98,354.46 L833.39,354.54 L834.80,354.61 L836.22,354.69 L837.63,354.77 L839.04,354.84 L840.45,354.91 L841.86,354.99 L843.27,355.06 L844.68,355.13 L846.09,355.20 L847.51,355.26 L848.92,355.33 L850.33,355.39 L851.74,355.46 L853.15,355.52 L854.56,355.58 L855.97,355.64 L857.38,355.69 L858.79,355.75 L860.21,355.80 L861.62,355.86 L863.03,355.91 L864.44,355.96 L865.85,356.01 L867.26,356.05 L868.67,356.10 L870.08,356.14 L871.50,356.18 L872.91,356.22 L874.32,356.26 L875.73,356.30 L877.14,356.33 L878.55,356.36 L879.96,356.40 L881.37,356.42 L882.78,356.45 L884.20,356.48 L885.61,356.50 L887.02,356.53 L888.43,356.55 L889.84,356.57 L891.25,356.59 L892.66,356.60 L894.07,356.62 L895.49,356.63 L896.90,356.65 L898.31,356.66 L899.72,356.67 L901.13,356.68 L902.54,356.68 L903.95,356.69 L905.36,356.70 L906.77,356.70 L908.19,356.70 L909.60,356.71 L911.01,356.71 L912.42,356.71 L913.83,356.71 L915.24,356.70 L916.65,356.70 L918.06,356.70 L919.48,356.69 L920.89,356.69 L922.30,356.68 L923.71,356.67 L925.12,356.66 L926.53,356.66 L927.94,356.65 L929.35,356.64 L930.77,356.63 L932.18,356.61 L933.59,356.60 L935.00,356.59 L936.41,356.58 L937.82,356.56 L939.23,356.55 L940.64,356.53 L942.05,356.52 L943.47,356.50 L944.88,356.49 L946.29,356.47 L947.70,356.46 L949.11,356.44 L950.52,356.42 L951.93,356.40 L953.34,356.39 L954.76,356.37 L956.17,356.35 L957.58,356.34 L958.99,356.32 L960.40,356.30" fill="none" stroke="#008000" stroke-width="2.10" stroke-dasharray="13.7 11.85" stroke-dashoffset="0.00" stroke-linecap="butt" stroke-linejoin="round"/>
<rect x="108.90" y="390.60" width="12.40" height="12.40" fill="#000"/>
<rect x="193.43" y="391.85" width="12.40" height="12.40" fill="#000"/>
<rect x="277.96" y="394.40" width="12.40" height="12.40" fill="#000"/>
<rect x="362.49" y="418.10" width="12.40" height="12.40" fill="#000"/>
<rect x="447.02" y="475.00" width="12.40" height="12.40" fill="#000"/>
<rect x="531.55" y="531.40" width="12.40" height="12.40" fill="#000"/>
<rect x="616.08" y="554.80" width="12.40" height="12.40" fill="#000"/>
<rect x="700.61" y="566.40" width="12.40" height="12.40" fill="#000"/>
<rect x="785.14" y="572.60" width="12.40" height="12.40" fill="#000"/>
<rect x="869.67" y="577.10" width="12.40" height="12.40" fill="#000"/>
<rect x="954.20" y="577.10" width="12.40" height="12.40" fill="#000"/>
<polygon points="115.10,357.70 117.17,363.25 123.09,363.50 118.46,367.19 120.04,372.90 115.10,369.63 110.16,372.90 111.74,367.19 107.11,363.50 113.03,363.25" fill="#ff0000" stroke="#ff0000" stroke-width="1.3" stroke-linejoin="round"/>
<polygon points="199.63,358.90 201.70,364.45 207.62,364.70 202.99,368.39 204.57,374.10 199.63,370.83 194.69,374.10 196.27,368.39 191.64,364.70 197.56,364.45" fill="#ff0000" stroke="#ff0000" stroke-width="1.3" stroke-linejoin="round"/>
<polygon points="284.16,366.30 286.23,371.85 292.15,372.10 287.52,375.79 289.10,381.50 284.16,378.23 279.22,381.50 280.80,375.79 276.17,372.10 282.09,371.85" fill="#ff0000" stroke="#ff0000" stroke-width="1.3" stroke-linejoin="round"/>
<polygon points="368.69,386.30 370.76,391.85 376.68,392.10 372.05,395.79 373.63,401.50 368.69,398.23 363.75,401.50 365.33,395.79 360.70,392.10 366.62,391.85" fill="#ff0000" stroke="#ff0000" stroke-width="1.3" stroke-linejoin="round"/>
<polygon points="453.22,427.10 455.29,432.65 461.21,432.90 456.58,436.59 458.16,442.30 453.22,439.03 448.28,442.30 449.86,436.59 445.23,432.90 451.15,432.65" fill="#ff0000" stroke="#ff0000" stroke-width="1.3" stroke-linejoin="round"/>
<polygon points="537.75,472.30 539.82,477.85 545.74,478.10 541.11,481.79 542.69,487.50 537.75,484.23 532.81,487.50 534.39,481.79 529.76,478.10 535.68,477.85" fill="#ff0000" stroke="#ff0000" stroke-width="1.3" stroke-linejoin="round"/>
<polygon points="622.28,492.70 624.35,498.25 630.27,498.50 625.64,502.19 627.22,507.90 622.28,504.63 617.34,507.90 618.92,502.19 614.29,498.50 620.21,498.25" fill="#ff0000" stroke="#ff0000" stroke-width="1.3" stroke-linejoin="round"/>
<polygon points="706.81,506.40 708.88,511.95 714.80,512.20 710.17,515.89 711.75,521.60 706.81,518.33 701.87,521.60 703.45,515.89 698.82,512.20 704.74,511.95" fill="#ff0000" stroke="#ff0000" stroke-width="1.3" stroke-linejoin="round"/>
<polygon points="791.34,517.80 793.41,523.35 799.33,523.60 794.70,527.29 796.28,533.00 791.34,529.73 786.40,533.00 787.98,527.29 783.35,523.60 789.27,523.35" fill="#ff0000" stroke="#ff0000" stroke-width="1.3" stroke-linejoin="round"/>
<polygon points="875.87,522.10 877.94,527.65 883.86,527.90 879.23,531.59 880.81,537.30 875.87,534.03 870.93,537.30 872.51,531.59 867.88,527.90 873.80,527.65" fill="#ff0000" stroke="#ff0000" stroke-width="1.3" stroke-linejoin="round"/>
<polygon points="960.40,529.40 962.47,534.95 968.39,535.20 963.76,538.89 965.34,544.60 960.40,541.33 955.46,544.60 957.04,538.89 952.41,535.20 958.33,534.95" fill="#ff0000" stroke="#ff0000" stroke-width="1.3" stroke-linejoin="round"/>
<circle cx="115.10" cy="283.30" r="6.10" fill="url(#ball)"/>
<circle cx="199.63" cy="285.80" r="6.10" fill="url(#ball)"/>
<circle cx="284.16" cy="294.90" r="6.10" fill="url(#ball)"/>
<circle cx="368.69" cy="310.50" r="6.10" fill="url(#ball)"/>
<circle cx="453.22" cy="344.20" r="6.10" fill="url(#ball)"/>
<circle cx="537.75" cy="374.40" r="6.10" fill="url(#ball)"/>
<circle cx="622.28" cy="390.40" r="6.10" fill="url(#ball)"/>
<circle cx="706.81" cy="401.40" r="6.10" fill="url(#ball)"/>
<circle cx="791.34" cy="408.00" r="6.10" fill="url(#ball)"/>
<circle cx="875.87" cy="413.00" r="6.10" fill="url(#ball)"/>
<circle cx="960.40" cy="414.80" r="6.10" fill="url(#ball)"/>
<polygon points="115.10,234.37 107.80,247.01 122.40,247.01" fill="#008000" stroke="#008000" stroke-width="1.1" stroke-linejoin="round"/>
<polygon points="199.63,236.57 192.33,249.21 206.93,249.21" fill="#008000" stroke="#008000" stroke-width="1.1" stroke-linejoin="round"/>
<polygon points="284.16,241.17 276.86,253.81 291.46,253.81" fill="#008000" stroke="#008000" stroke-width="1.1" stroke-linejoin="round"/>
<polygon points="368.69,255.17 361.39,267.81 375.99,267.81" fill="#008000" stroke="#008000" stroke-width="1.1" stroke-linejoin="round"/>
<polygon points="453.22,286.17 445.92,298.81 460.52,298.81" fill="#008000" stroke="#008000" stroke-width="1.1" stroke-linejoin="round"/>
<polygon points="537.75,313.77 530.45,326.41 545.05,326.41" fill="#008000" stroke="#008000" stroke-width="1.1" stroke-linejoin="round"/>
<polygon points="622.28,327.37 614.98,340.01 629.58,340.01" fill="#008000" stroke="#008000" stroke-width="1.1" stroke-linejoin="round"/>
<polygon points="706.81,336.37 699.51,349.01 714.11,349.01" fill="#008000" stroke="#008000" stroke-width="1.1" stroke-linejoin="round"/>
<polygon points="791.34,343.37 784.04,356.01 798.64,356.01" fill="#008000" stroke="#008000" stroke-width="1.1" stroke-linejoin="round"/>
<polygon points="875.87,347.87 868.57,360.51 883.17,360.51" fill="#008000" stroke="#008000" stroke-width="1.1" stroke-linejoin="round"/>
<polygon points="960.40,347.87 953.10,360.51 967.70,360.51" fill="#008000" stroke="#008000" stroke-width="1.1" stroke-linejoin="round"/>
<rect x="115.10" y="15.80" width="845.30" height="681.00" fill="none" stroke="#000" stroke-width="2.60"/>
<line x1="255.98" y1="696.80" x2="255.98" y2="684.80" stroke="#000" stroke-width="2.60"/>
<line x1="396.87" y1="696.80" x2="396.87" y2="684.80" stroke="#000" stroke-width="2.60"/>
<line x1="537.75" y1="696.80" x2="537.75" y2="684.80" stroke="#000" stroke-width="2.60"/>
<line x1="678.63" y1="696.80" x2="678.63" y2="684.80" stroke="#000" stroke-width="2.60"/>
<line x1="819.52" y1="696.80" x2="819.52" y2="684.80" stroke="#000" stroke-width="2.60"/>
<line x1="115.10" y1="583.30" x2="127.10" y2="583.30" stroke="#000" stroke-width="2.60"/>
<line x1="115.10" y1="469.80" x2="127.10" y2="469.80" stroke="#000" stroke-width="2.60"/>
<line x1="115.10" y1="356.30" x2="127.10" y2="356.30" stroke="#000" stroke-width="2.60"/>
<line x1="115.10" y1="242.80" x2="127.10" y2="242.80" stroke="#000" stroke-width="2.60"/>
<line x1="115.10" y1="129.30" x2="127.10" y2="129.30" stroke="#000" stroke-width="2.60"/>
<text transform="translate(115.40,739.60) scale(1,1.000)" font-size="41.0" text-anchor="middle">0</text>
<text transform="translate(255.78,739.60) scale(1,1.000)" font-size="41.0" text-anchor="middle">20</text>
<text transform="translate(396.87,739.60) scale(1,1.000)" font-size="41.0" text-anchor="middle">40</text>
<text transform="translate(537.75,739.60) scale(1,1.000)" font-size="41.0" text-anchor="middle">60</text>
<text transform="translate(678.63,739.60) scale(1,1.000)" font-size="41.0" text-anchor="middle">80</text>
<text transform="translate(820.52,739.60) scale(1,1.000)" font-size="41.0" text-anchor="middle">100</text>
<text transform="translate(961.20,739.60) scale(1,1.000)" font-size="41.0" text-anchor="middle">120</text>
<text transform="translate(101.00,708.30) scale(1,1.000)" font-size="41.0" text-anchor="end">2.5</text>
<text transform="translate(102.20,594.80) scale(1,1.000)" font-size="41.0" text-anchor="end">3.0</text>
<text transform="translate(101.00,481.30) scale(1,1.000)" font-size="41.0" text-anchor="end">3.5</text>
<text transform="translate(102.20,367.80) scale(1,1.000)" font-size="41.0" text-anchor="end">4.0</text>
<text transform="translate(101.00,254.30) scale(1,1.000)" font-size="41.0" text-anchor="end">4.5</text>
<text transform="translate(102.20,140.80) scale(1,1.000)" font-size="41.0" text-anchor="end">5.0</text>
<text transform="translate(101.00,27.30) scale(1,1.000)" font-size="41.0" text-anchor="end">5.5</text>
<text transform="translate(537.30,805.40) scale(1,1.040)" font-size="39.8" text-anchor="middle">Hydration time/h</text>
<text transform="translate(37,356.80) rotate(-90) scale(1,1.000)" font-size="40.2" text-anchor="middle">Fracture pressure distribution/(g/cm<tspan dy="-17" font-size="26">3</tspan><tspan dy="17">)</tspan></text>
<rect x="497.20" y="38.60" width="448.50" height="204.30" fill="#fff" stroke="#333" stroke-width="2"/>
<line x1="512" y1="66.00" x2="602" y2="66.00" stroke="#000" stroke-width="2.10" stroke-dasharray="11.5 5.5 5 5 5 6"/>
<line x1="599" y1="66.00" x2="602" y2="66.00" stroke="#000" stroke-width="2.10"/>
<rect x="551.30" y="59.80" width="12.40" height="12.40" fill="#000"/>
<text transform="translate(612,78.90) scale(1,1.000)" font-size="40.0">Deviation angle 0°</text>
<line x1="512" y1="116.00" x2="602" y2="116.00" stroke="#ff0000" stroke-width="2.10" stroke-dasharray="15.5 5.3 4.6 6.3"/>
<polygon points="557.50,107.60 559.57,113.15 565.49,113.40 560.86,117.09 562.44,122.80 557.50,119.53 552.56,122.80 554.14,117.09 549.51,113.40 555.43,113.15" fill="#ff0000" stroke="#ff0000" stroke-width="1.3" stroke-linejoin="round"/>
<text transform="translate(612,128.90) scale(1,1.000)" font-size="40.0">Deviation angle 30°</text>
<line x1="512" y1="166.00" x2="602" y2="166.00" stroke="#0000ff" stroke-width="2.10" stroke-dasharray="4.5 10.7"/>
<circle cx="557.50" cy="166.00" r="6.10" fill="url(#ball)"/>
<text transform="translate(612,178.90) scale(1,1.000)" font-size="40.0">Deviation angle 60°</text>
<line x1="512" y1="216.00" x2="602" y2="216.00" stroke="#008000" stroke-width="2.10" stroke-dasharray="13.6 11.8"/>
<polygon points="557.50,207.57 550.20,220.21 564.80,220.21" fill="#008000" stroke="#008000" stroke-width="1.1" stroke-linejoin="round"/>
<text transform="translate(612,228.90) scale(1,1.000)" font-size="40.0">Deviation angle 90°</text>
</svg></body></html>
